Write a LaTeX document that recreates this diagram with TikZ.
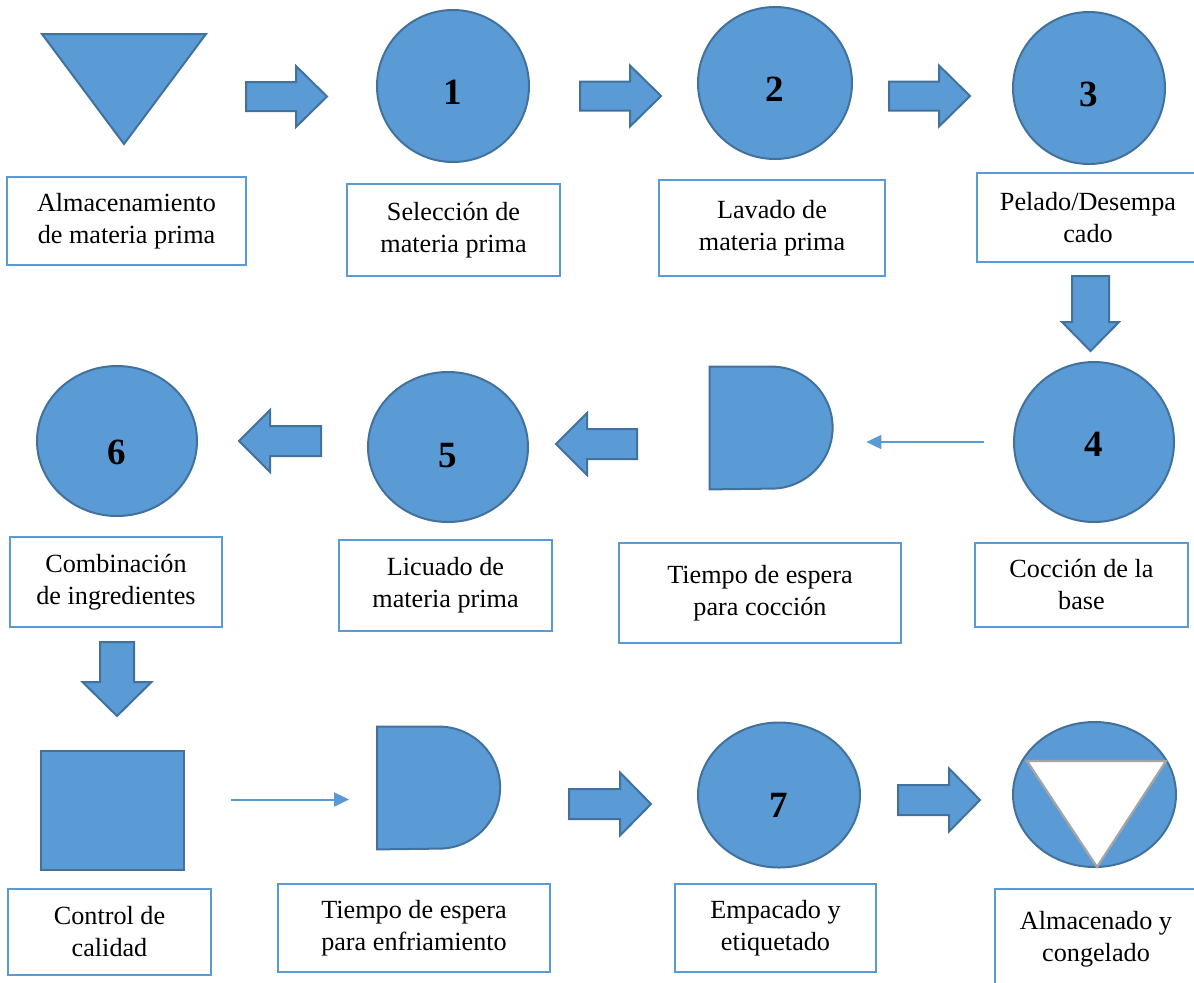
\documentclass[tikz,border=0pt]{standalone}
\usepackage{fontspec}
\setmainfont{Liberation Serif}
\usetikzlibrary{arrows.meta,shapes.geometric}
\definecolor{fillb}{HTML}{5B9BD5}
\definecolor{edgeb}{HTML}{41719C}
\definecolor{trig}{HTML}{A5A5A5}
\newcommand\RArr[6]{%
  \draw[shp] (#1,{#3-(#4)}) -- ({#2-(#6)},{#3-(#4)}) -- ({#2-(#6)},{#3-(#5)}) -- (#2,#3)
   -- ({#2-(#6)},{#3+(#5)}) -- ({#2-(#6)},{#3+(#4)}) -- (#1,{#3+(#4)}) -- cycle;}
\newcommand\DArr[6]{%
  \draw[shp] ({#1-(#4)},#2) -- ({#1-(#4)},{#3-(#6)}) -- ({#1-(#5)},{#3-(#6)}) -- (#1,#3)
   -- ({#1+(#5)},{#3-(#6)}) -- ({#1+(#4)},{#3-(#6)}) -- ({#1+(#4)},#2) -- cycle;}
\begin{document}
\begin{tikzpicture}[x=0.5pt,y=-0.5pt,
  shp/.style={fill=fillb,draw=edgeb,line width=1pt,line join=miter},
  proc/.style={shp,ellipse,inner sep=0pt,font=\fontsize{18.5}{20}\selectfont\bfseries,text height=#1,text depth=0pt},
  proc/.default=18.5pt,
  lbl/.style={draw=fillb,line width=1.2pt,fill=white,align=center,inner sep=0pt,font=\fontsize{13.1}{16}\selectfont},
  thinarr/.style={draw=fillb,line width=1pt,-{Triangle[length=7.5pt,width=7pt]}},
  ghost/.style={inner sep=0pt,minimum width=61.5pt,minimum height=61pt}]
\useasboundingbox (0,0) rectangle (1194,982);

% ---------- row 1 ----------
\draw[shp] (42,34) -- (206,34) -- (124,144) -- cycle;
\node[lbl,minimum width=119.5pt,minimum height=44pt] (b1) at (126.5,221) {Almacenamiento\\de materia prima};
\RArr{246}{327}{96.5}{14.5}{30.5}{31}

\node[proc,minimum width=76pt,minimum height=76pt] (c1) at (453,86) {1};
\node[lbl,minimum width=106.5pt,minimum height=46pt] (b2) at (453.5,230) {Selección de\\materia prima};
\RArr{580}{661}{96}{14.5}{30.5}{31}

\node[proc,minimum width=77pt,minimum height=76pt] (c2) at (775,83) {2};
\node[lbl,minimum width=113pt,minimum height=48pt] (b3) at (772,228) {Lavado de\\materia prima};
\RArr{889}{970}{96}{14.5}{30.5}{31}

\node[proc,minimum width=76pt,minimum height=76pt] (c3) at (1089,88) {3};
\node[lbl,minimum width=111pt,minimum height=44.5pt] (b4) at (1088,217.5) {Pelado/Desempa\\cado};
\DArr{1090.5}{276}{351}{18.5}{28.5}{29}

% ---------- row 2 ----------
\node[proc=14.5pt,minimum width=80pt,minimum height=80pt] (c4) at (1094,442) {4};
\node[lbl,minimum width=106.5pt,minimum height=42pt] (b5) at (1081.5,585) {Cocción de la\\base};

\node[ghost] (d1) at (771.5,428) {};
\draw[shp] (d1.south west) -- (d1.north west) -- ++(31pt,0pt) arc[start angle=90,end angle=-90,radius=30.5pt] -- cycle;
\node[lbl,minimum width=141pt,minimum height=50pt] (b6) at (760,593) {Tiempo de espera\\para cocción};
\draw[thinarr,shorten <=14.5pt,shorten >=16.5pt] (c4.west) -- (c4.west -| d1.east);

\RArr{637}{556}{444}{15}{31}{-31}
\node[proc=20.5pt,minimum width=80pt,minimum height=75pt] (c5) at (448,447) {5};
\node[lbl,minimum width=106.5pt,minimum height=45.5pt] (b7) at (445.5,585.5) {Licuado de\\materia prima};

\RArr{321}{239}{441}{15}{31}{-31}
\node[proc=23.5pt,minimum width=80pt,minimum height=75pt] (c6) at (117,441) {6};
\node[lbl,minimum width=106pt,minimum height=45pt] (b8) at (116,582) {Combinación\\de ingredientes};
\DArr{117}{642}{716}{17}{34.5}{34}

% ---------- row 3 ----------
\node[shp,rectangle,inner sep=0pt,minimum width=71.5pt,minimum height=59.5pt] (sq) at (112.5,810.5) {};
\node[lbl,minimum width=101.5pt,minimum height=43pt] (b9) at (109.5,932) {Control de\\calidad};

\node[ghost] (d2) at (439,788) {};
\draw[shp] (d2.south west) -- (d2.north west) -- ++(31pt,0pt) arc[start angle=90,end angle=-90,radius=30.5pt] -- cycle;
\node[lbl,minimum width=136pt,minimum height=44pt] (b10) at (414,928) {Tiempo de espera\\para enfriamiento};
\draw[thinarr,shorten <=23pt,shorten >=14pt] ([yshift=5.5pt]sq.east) -- ([yshift=-5.75pt]d2.west);

\RArr{569}{651}{804}{15}{31.5}{31}
\node[proc=22.5pt,minimum width=81pt,minimum height=72.5pt] (c7) at (779,795) {7};
\node[lbl,minimum width=100.5pt,minimum height=44pt] (b11) at (775.5,928) {Empacado y\\etiquetado};

\RArr{898}{980}{800}{15}{31.5}{31}
\node[proc,minimum width=81.5pt,minimum height=72.5pt] (c8) at (1094.5,794.5) {};
\draw[draw=trig,fill=white,line width=1.1pt] (1027,761) -- (1166,761) -- (1097,867) -- cycle;
\node[lbl,minimum width=101pt,minimum height=50.5pt] (b12) at (1096,939.5) {Almacenado y\\congelado};
\end{tikzpicture}
\end{document}
